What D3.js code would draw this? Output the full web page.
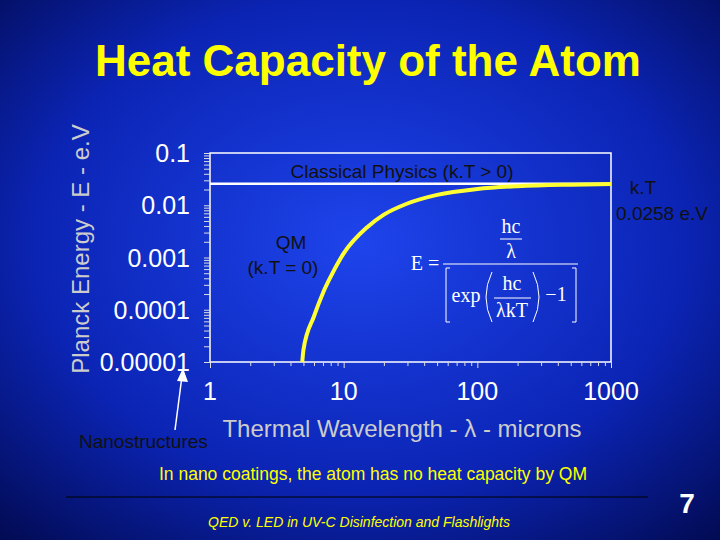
<!DOCTYPE html><html><head><meta charset="utf-8"><script src="https://cdn.jsdelivr.net/npm/d3@7"></script>
<style>body{margin:0}svg{display:block}</style></head><body><svg id="c" width="720" height="540"></svg>
<script>
const lambdaVals=[4.9,5,6,7,8,10,15,20,30,50,100,200,500,1000];
const energyVals=[1e-5,1.7e-5,7.5e-5,2.1e-4,4.3e-4,1.2e-3,3.8e-3,6.6e-3,0.0108,0.0158,0.0205,0.0232,0.0248,0.0254];
const classicalE=0.0258;
const xTicks=[1,10,100,1000];
const yTicks=[0.1,0.01,0.001,0.0001,0.00001];
const yTickLabels=["0.1","0.01","0.001","0.0001","0.00001"];

const svg=d3.select("#c");
const defs=svg.append("defs");
const g=defs.append("radialGradient").attr("id","bg").attr("cx","50%").attr("cy","45%").attr("r","75%");
g.append("stop").attr("offset","0%").attr("stop-color","#1e44ec");
g.append("stop").attr("offset","60%").attr("stop-color","#0b24b4");
g.append("stop").attr("offset","100%").attr("stop-color","#020a50");
svg.append("rect").attr("width",720).attr("height",540).attr("fill","url(#bg)");
const F="Arial, 'Liberation Sans', sans-serif";
svg.append("text").attr("x",368).attr("y",76).attr("text-anchor","middle").attr("fill","#ffff00")
 .attr("font-family",F).attr("font-weight","bold").attr("font-size",44).text("Heat Capacity of the Atom");

const L=210,R=611,T=153,B=362;
const x=d3.scaleLog().domain([1,1000]).range([L,R]);
const y=d3.scaleLog().domain([1e-5,0.1]).range([B,T]);
svg.append("rect").attr("x",L).attr("y",T).attr("width",R-L).attr("height",B-T).attr("fill","none").attr("stroke","#fff").attr("stroke-width",1.5);
const ya=svg.append("g").attr("transform",`translate(${L},0)`).call(d3.axisLeft(y).tickValues(d3.range(-5,-0.99,1).flatMap(e=>e<-1?[1,2,3,4,5,6,7,8,9].map(m=>m*Math.pow(10,e)):[Math.pow(10,e)])).tickSize(6).tickFormat(""));
ya.selectAll("line").attr("stroke","#ddd");
ya.select("path").remove();
yTicks.forEach((v,i)=>svg.append("text").attr("x",190).attr("y",y(v)+9).attr("text-anchor","end").attr("fill","#fff").attr("font-family",F).attr("font-size",25).text(yTickLabels[i]));
const minorX=[];[1,10,100].forEach(d=>[1,2,3,4,5,6,7,8,9].forEach(m=>minorX.push(d*m)));minorX.push(1000);
const xa=svg.append("g").attr("transform",`translate(0,${B})`).call(d3.axisBottom(x).tickValues(minorX).tickSize(6).tickFormat(""));
xa.selectAll("line").attr("stroke","#ddd");xa.select("path").remove();
xa.selectAll(".tick").filter(d=>!xTicks.includes(d)).select("line").attr("y2",4);
xTicks.forEach(v=>svg.append("text").attr("x",x(v)).attr("y",400).attr("text-anchor","middle").attr("fill","#fff").attr("font-family",F).attr("font-size",25).text(v));
svg.append("line").attr("x1",L).attr("x2",R).attr("y1",y(classicalE)).attr("y2",y(classicalE)).attr("stroke","#fff").attr("stroke-width",2.5);
svg.append("path").datum(lambdaVals.map((l,i)=>[l,energyVals[i]])).attr("fill","none").attr("stroke","#ffff33").attr("stroke-width",4)
 .attr("d",d3.line().x(d=>x(d[0])).y(d=>y(d[1])).curve(d3.curveMonotoneX));
const t=(s,xx,yy,sz,anc,col)=>svg.append("text").attr("x",xx).attr("y",yy).attr("font-family",F).attr("font-size",sz).attr("text-anchor",anc||"start").attr("fill",col||"#fff").text(s);
t("Classical Physics (k.T > 0)",402,178,19,"middle","#111");
t("QM",291,249,19,"middle","#111");t("(k.T = 0)",283,274,19,"middle","#111");
t("k.T",643,194,19,"middle","#111");t("0.0258 e.V",662,220,19,"middle","#111");
t("Thermal Wavelength - λ - microns",402,437,24,"middle","#ccc");
svg.append("text").attr("transform","translate(89,249) rotate(-90)").attr("text-anchor","middle").attr("font-family",F).attr("font-size",24).attr("fill","#ccc").text("Planck Energy - E - e.V");
t("Nanostructures",79,448,19,"start","#111");
svg.append("line").attr("x1",175).attr("y1",430).attr("x2",182).attr("y2",376).attr("stroke","#fff").attr("stroke-width",1.5);
svg.append("path").attr("d","M183,368 L177,381 L188,382 Z").attr("fill","#fff");
const S="'Liberation Serif','Times New Roman',serif";
const ft=(s,xx,yy,sz)=>svg.append("text").attr("x",xx).attr("y",yy).attr("font-family",S).attr("font-size",sz).attr("fill","#fff").attr("text-anchor","middle").text(s);
ft("hc",511,233,20);ft("λ",511,258,20);
svg.append("line").attr("x1",500).attr("x2",522).attr("y1",239).attr("y2",239).attr("stroke","#fff");
ft("E =",425,270,20);
svg.append("line").attr("x1",443).attr("x2",578).attr("y1",264).attr("y2",264).attr("stroke","#fff").attr("stroke-width",1.2);
svg.append("path").attr("d","M450,268 L446,268 L446,322 L450,322 M572,268 L576,268 L576,322 L572,322").attr("fill","none").attr("stroke","#fff");
ft("exp",466,302,20);
ft("hc",512,290,20);ft("λkT",512,317,20);
svg.append("line").attr("x1",494).attr("x2",531).attr("y1",298).attr("y2",298).attr("stroke","#fff");
svg.append("path").attr("d","M492,272 Q480,297 492,322 M533,272 Q545,297 533,322").attr("fill","none").attr("stroke","#fff");
ft("−1",556,301,20);
t("In nano coatings, the atom has no heat capacity by QM",373,480,17.5,"middle","#ffff00");
svg.append("line").attr("x1",66).attr("x2",648).attr("y1",497).attr("y2",497).attr("stroke","#000").attr("stroke-width",1);
t("QED v. LED in UV-C Disinfection  and Flashlights",359,527,14,"middle","#ffff00").attr("font-style","italic");
t("7",687,513,28,"middle","#fff").attr("font-weight","bold");
</script></body></html>
